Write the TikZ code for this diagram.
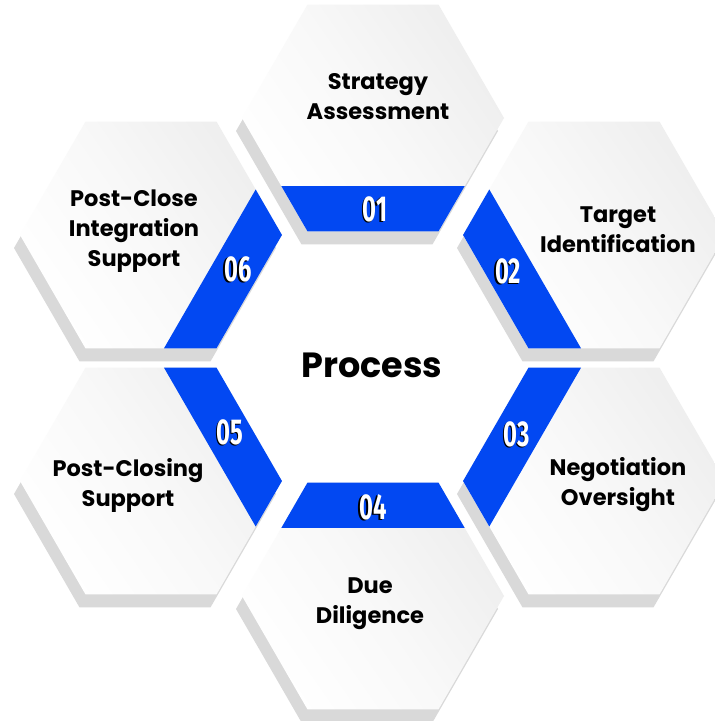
\documentclass[tikz,border=0pt]{standalone}
\usepackage{fontspec}
\setmainfont{Poppins}
\newfontfamily\numfont{Fira Sans}
\definecolor{bandblue}{RGB}{2,72,242}
\definecolor{shadowgray}{RGB}{217,217,217}
\definecolor{facegray}{RGB}{238,238,238}
\tikzset{
  hexp/.style={insert path={(131,0) -- (65.5,113.4) -- (-65.5,113.4) -- (-131,0) -- (-65.5,-113.4) -- (65.5,-113.4) -- cycle}},
  hexshadow/.style={fill=shadowgray},
  hexface/.style={top color=facegray, bottom color=white, middle color=white!60!facegray, shading angle=-55},
  labeltxt/.style={font=\bfseries\fontsize{22.5}{30}\selectfont, align=center, text=black},
  numtxt/.style={font=\numfont\bfseries\fontsize{36}{36}\selectfont, text=white, inner sep=0pt},
  titletxt/.style={font=\bfseries\fontsize{35}{40}\selectfont, text=black}
}
\newcommand{\numbox}[1]{\scalebox{0.66}[1]{\rlap{\kern-2.2pt\raisebox{-1.4pt}{\color{black}#1}}{\color{white}#1}}}
\begin{document}
\begin{tikzpicture}[x=1pt,y=1pt]
\useasboundingbox (0,0) rectangle (715,721);
\fill[white] (0,0) rectangle (715,721);
% hex centres
\coordinate (c1) at (373,603);
\coordinate (c2) at (594,486);
\coordinate (c3) at (594,240);
\coordinate (c4) at (373,125);
\coordinate (c5) at (151,240);
\coordinate (c6) at (151,486);
% shadows
\foreach \c in {c1,c2,c3,c4,c5,c6}{
  \begin{scope}[shift={(\c)}, xshift=-6, yshift=-13]
    \path[hexshadow][hexp];
  \end{scope}
}
% faces and bands
\foreach \c/\r in {c1/0,c2/-60,c3/-120,c4/180,c5/120,c6/60}{
  \begin{scope}[shift={(\c)}]
    \shade[hexface][hexp];
  \end{scope}
  \begin{scope}[shift={(\c)}, rotate=\r]
    \clip[hexp];
    \fill[bandblue] (-200,-130) rectangle (200,-67.9);
  \end{scope}
}
% numbers
\foreach \n/\x/\y in {1/375/511, 2/508/449, 3/517/286, 4/373/213, 5/230/288, 6/238/451}{
  \node[numtxt] (n\n) at (\x,\y) {\numbox{0\n}};
}
% labels
\node[labeltxt] (l1) at (378,624) {Strategy\\Assessment};
\node[labeltxt] (l2) at (618,491) {Target\\Identification};
\node[labeltxt] (l3) at (618,236) {Negotiation\\Oversight};
\node[labeltxt] (l4) at (370,117) {Due\\Diligence};
\node[labeltxt] (l5) at (128,236) {Post-Closing\\Support};
\node[labeltxt] (l6) at (134,490) {Post-Close\\Integration\\Support};
\node[titletxt] (title) at (372,356) {Process};
\end{tikzpicture}
\end{document}
